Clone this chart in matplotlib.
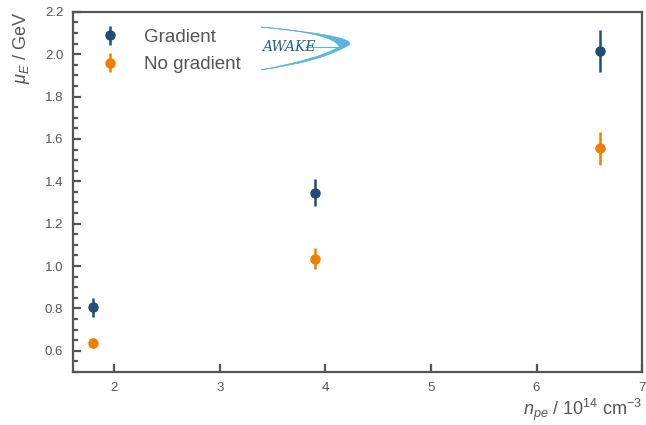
import numpy as np
import matplotlib
matplotlib.use("Agg")
import matplotlib.pyplot as plt
from matplotlib.path import Path
from matplotlib.patches import PathPatch
from matplotlib.ticker import MultipleLocator

plt.rcParams["font.family"] = ["Liberation Sans", "DejaVu Sans"]
plt.rcParams["mathtext.fontset"] = "custom"
plt.rcParams["mathtext.rm"] = "Liberation Sans"
plt.rcParams["mathtext.it"] = "Liberation Sans:italic"

# electron densities (10^14 cm^-3)
n_pe = [1.8, 3.9, 6.6]
# mean energy, gradient / no gradient (GeV)
mu_grad = [0.805, 1.347, 2.015]
err_grad = [0.045, 0.065, 0.10]
mu_nograd = [0.636, 1.034, 1.555]
err_nograd = [0.025, 0.05, 0.08]

BLUE = "#1f4e79"
ORANGE = "#f07f00"
GREY = "#555555"

fig = plt.figure(figsize=(6.46, 4.25), dpi=100)
ax = fig.add_axes([0.113, 0.125, 0.881, 0.847])

ax.errorbar(n_pe, mu_grad, yerr=err_grad, fmt="o", color=BLUE, ms=6.5,
            elinewidth=1.8, capsize=0, label="Gradient")
ax.errorbar(n_pe, mu_nograd, yerr=err_nograd, fmt="o", color=ORANGE, ms=6.5,
            elinewidth=1.8, capsize=0, label="No gradient")

ax.set_xlim(1.61, 7)
ax.set_ylim(0.5, 2.2)
ax.xaxis.set_major_locator(MultipleLocator(1))
ax.yaxis.set_minor_locator(MultipleLocator(0.05))
ax.set_yticks(np.arange(0.6, 2.21, 0.2))
ax.set_yticklabels(["%.1f" % v for v in np.arange(0.6, 2.21, 0.2)])

for s in ax.spines.values():
    s.set_color(GREY)
    s.set_linewidth(1.6)
ax.tick_params(which="both", direction="in", color=GREY, labelcolor=GREY,
               labelsize=9.5, width=1.6)
ax.tick_params(which="major", length=6, pad=7)
ax.tick_params(which="minor", length=3.5)

ax.set_xlabel(r"$n_{pe}$ / 10$^{14}$ cm$^{-3}$", loc="right", fontsize=13,
              color=GREY, labelpad=2)
ax.set_ylabel(r"$\mu_E$ / GeV", loc="top", fontsize=13, color=GREY,
              labelpad=9)

leg = ax.legend(loc="upper left", frameon=False, fontsize=13.5,
                bbox_to_anchor=(0.0, 1.0), handletextpad=0.7,
                handlelength=2.2, labelspacing=0.55)
for t in leg.get_texts():
    t.set_color(GREY)

# AWAKE logo
LOGO = "#5ab4e0"
verts = [(0.33, 0.958), (0.52, 0.93), (0.479, 0.903), (0.43, 0.86),
         (0.33, 0.839), (0.43, 0.868), (0.468, 0.903), (0.46, 0.94),
         (0.33, 0.958)]
codes = [Path.MOVETO, Path.CURVE3, Path.CURVE3, Path.CURVE3, Path.CURVE3,
         Path.CURVE3, Path.CURVE3, Path.CURVE3, Path.CURVE3]
ax.add_patch(PathPatch(Path(verts, codes), transform=ax.transAxes,
                       facecolor=LOGO, edgecolor=LOGO, lw=0.5))
ax.plot([0.41, 0.475], [0.903, 0.903], transform=ax.transAxes, color=LOGO,
        lw=0.8)
ax.text(0.333, 0.903, "AWAKE", transform=ax.transAxes, family="DejaVu Serif",
        style="italic", fontsize=10, color="#1f5f8b", va="center")

fig.savefig("out.png", dpi=100)
